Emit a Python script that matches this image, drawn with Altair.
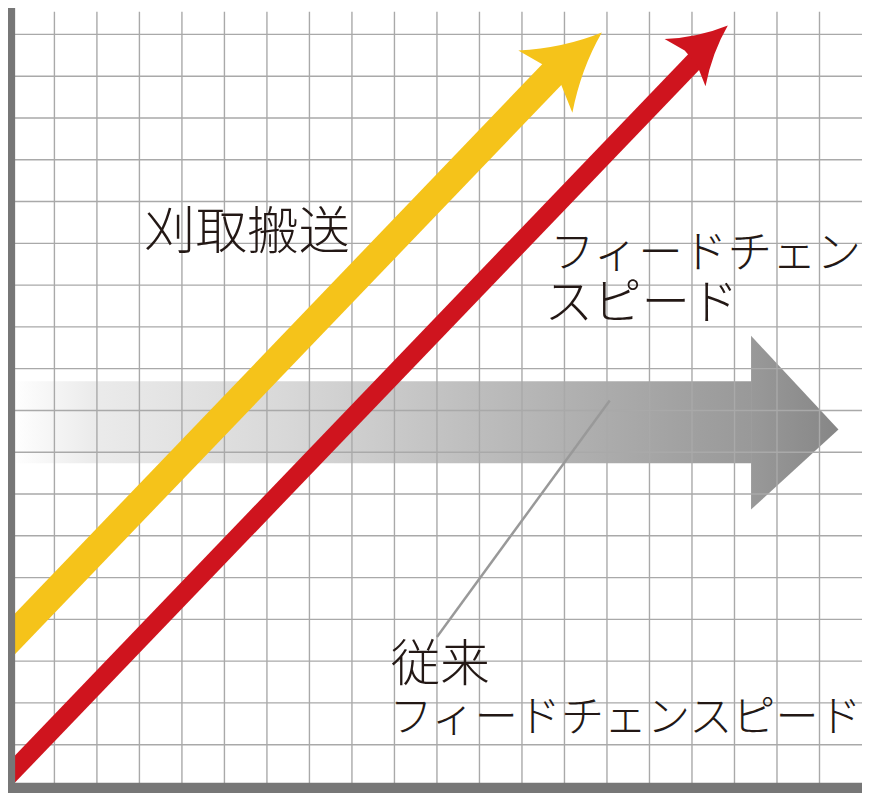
import altair as alt
import pandas as pd

# ---- chart units: one unit = one grid square ----
grid_x = list(range(1, 20))
grid_y = list(range(1, 19))

# yellow arrow (刈取搬送)
yellow_u = [-0.554, 12.794]
yellow_v = [2.988, 17.136]
yellow_tip_u = [13.880]
yellow_tip_v = [18.044]

# red arrow (フィードチェンスピード)
red_u = [-0.554, 16.166]
red_v = [-0.245, 17.471]
red_tip_u = [16.843]
red_tip_v = [18.215]

# grey arrow (従来)
gray_body_u = [0.0, 17.40]
gray_body_v = [7.737, 9.70]
gray_head_u = [17.39, 19.446]
gray_head_top = [10.785, 8.545]
gray_head_bottom = [6.628, 8.545]

# leader line
leader_u = [14.065, 9.999]
leader_v = [9.238, 3.580]

# labels
labels = ["刈取搬送", "フィードチェン", "スピード", "従来", "フィードチェンスピード"]
label_u = [3.106, 12.66, 12.53, 8.913, 8.882]
label_v = [12.875, 12.40, 11.18, 2.53, 1.30]

# ---- styling ----
W, H = 862, 785
xs = alt.Scale(domain=[-0.092, 20.0], nice=False, zero=False)
ys = alt.Scale(domain=[-0.069, 18.545], nice=False, zero=False)
X = lambda f: alt.X(f, type="quantitative", scale=xs, axis=None)
Y = lambda f: alt.Y(f, type="quantitative", scale=ys, axis=None)

HEAD = "M 0 0 Q -1.05 0.36 -2 1.1 L -1.73 0.33 L -1.73 -0.33 L -2 -1.1 Q -1.05 -0.36 0 0 Z"
YELLOW = "#F5C31A"
RED = "#CF141E"
TEXT = "#231815"
label_sizes = [52, 45, 49, 50, 43.5]

one = pd.DataFrame({"_": [0]})

# body gradient (spans body only), head gradient continues it
body_grad = alt.Gradient(
    gradient="linear", x1=0, x2=1, y1=0, y2=0,
    stops=[
        alt.GradientStop(color="#ffffff", offset=0),
        alt.GradientStop(color="#ebebeb", offset=0.11),
        alt.GradientStop(color="#d8d8d8", offset=0.37),
        alt.GradientStop(color="#bcbcbc", offset=0.64),
        alt.GradientStop(color="#9f9f9f", offset=0.93),
        alt.GradientStop(color="#999999", offset=1),
    ],
)
head_grad = alt.Gradient(
    gradient="linear", x1=0, x2=1, y1=0, y2=0,
    stops=[
        alt.GradientStop(color="#999999", offset=0),
        alt.GradientStop(color="#868686", offset=1),
    ],
)

gray_body = alt.Chart(pd.DataFrame({"u": [gray_body_u[0]], "u2": [gray_body_u[1]],
                                    "v": [gray_body_v[0]], "v2": [gray_body_v[1]]})).mark_rect(
    color=body_grad, opacity=1
).encode(x=X("u"), x2="u2", y=Y("v"), y2="v2")

gray_head = alt.Chart(pd.DataFrame({"u": gray_head_u, "top": gray_head_top, "bot": gray_head_bottom})).mark_area(
    color=head_grad, opacity=1, orient="vertical", interpolate="linear"
).encode(x=X("u"), y=Y("top"), y2="bot")

vgrid = alt.Chart(pd.DataFrame({"g": grid_x})).mark_rule(color="#a9a9a9", strokeWidth=1.4).encode(x=X("g"))
hgrid = alt.Chart(pd.DataFrame({"g": grid_y})).mark_rule(color="#a9a9a9", strokeWidth=1.4).encode(y=Y("g"))

leader = alt.Chart(pd.DataFrame({"u": leader_u, "v": leader_v, "o": [0, 1]})).mark_line(
    color="#999999", strokeWidth=2.5
).encode(x=X("u"), y=Y("v"), order="o:Q")

yellow_shaft = alt.Chart(pd.DataFrame({"u": yellow_u, "v": yellow_v, "o": [0, 1]})).mark_line(
    color=YELLOW, strokeWidth=28.5, strokeCap="butt", clip=True
).encode(x=X("u"), y=Y("v"), order="o:Q")
yellow_head = alt.Chart(pd.DataFrame({"u": yellow_tip_u, "v": yellow_tip_v})).mark_point(
    shape=HEAD, size=5715, angle=319, filled=True, opacity=1, color=YELLOW, strokeWidth=0
).encode(x=X("u"), y=Y("v"))

red_shaft = alt.Chart(pd.DataFrame({"u": red_u, "v": red_v, "o": [0, 1]})).mark_line(
    color=RED, strokeWidth=19, strokeCap="butt", clip=True
).encode(x=X("u"), y=Y("v"), order="o:Q")
red_head = alt.Chart(pd.DataFrame({"u": red_tip_u, "v": red_tip_v})).mark_point(
    shape=HEAD, size=3272, angle=319, filled=True, opacity=1, color=RED, strokeWidth=0
).encode(x=X("u"), y=Y("v"))

left_bar = alt.Chart(one).mark_rect(color="#777777").encode(
    x=alt.X(datum=-0.3, type="quantitative", scale=xs, axis=None), x2=alt.X2(datum=0.076),
    y=alt.Y(datum=-0.3, type="quantitative", scale=ys, axis=None), y2=alt.Y2(datum=19.0),
)
bottom_bar = alt.Chart(one).mark_rect(color="#777777").encode(
    x=alt.X(datum=-0.3, type="quantitative", scale=xs, axis=None), x2=alt.X2(datum=21.0),
    y=alt.Y(datum=-0.3, type="quantitative", scale=ys, axis=None), y2=alt.Y2(datum=0.092),
)

texts = []
for t, u, v, fs in zip(labels, label_u, label_v, label_sizes):
    texts.append(
        alt.Chart(pd.DataFrame({"t": [t], "u": [u], "v": [v]})).mark_text(
            align="left", baseline="alphabetic", font="Noto Sans CJK JP",
            fontWeight=300, fontSize=fs, color=TEXT,
        ).encode(x=X("u"), y=Y("v"), text="t:N")
    )

chart = alt.layer(
    gray_body, gray_head, vgrid, hgrid, leader,
    yellow_shaft, yellow_head, red_shaft, red_head,
    left_bar, bottom_bar, *texts,
).properties(
    width=W, height=H, padding=0,
    autosize=alt.AutoSizeParams(type="none"),
    background="white",
).configure_view(stroke=None)

chart.save("out.html", embed_options={"renderer": "svg", "actions": False})
